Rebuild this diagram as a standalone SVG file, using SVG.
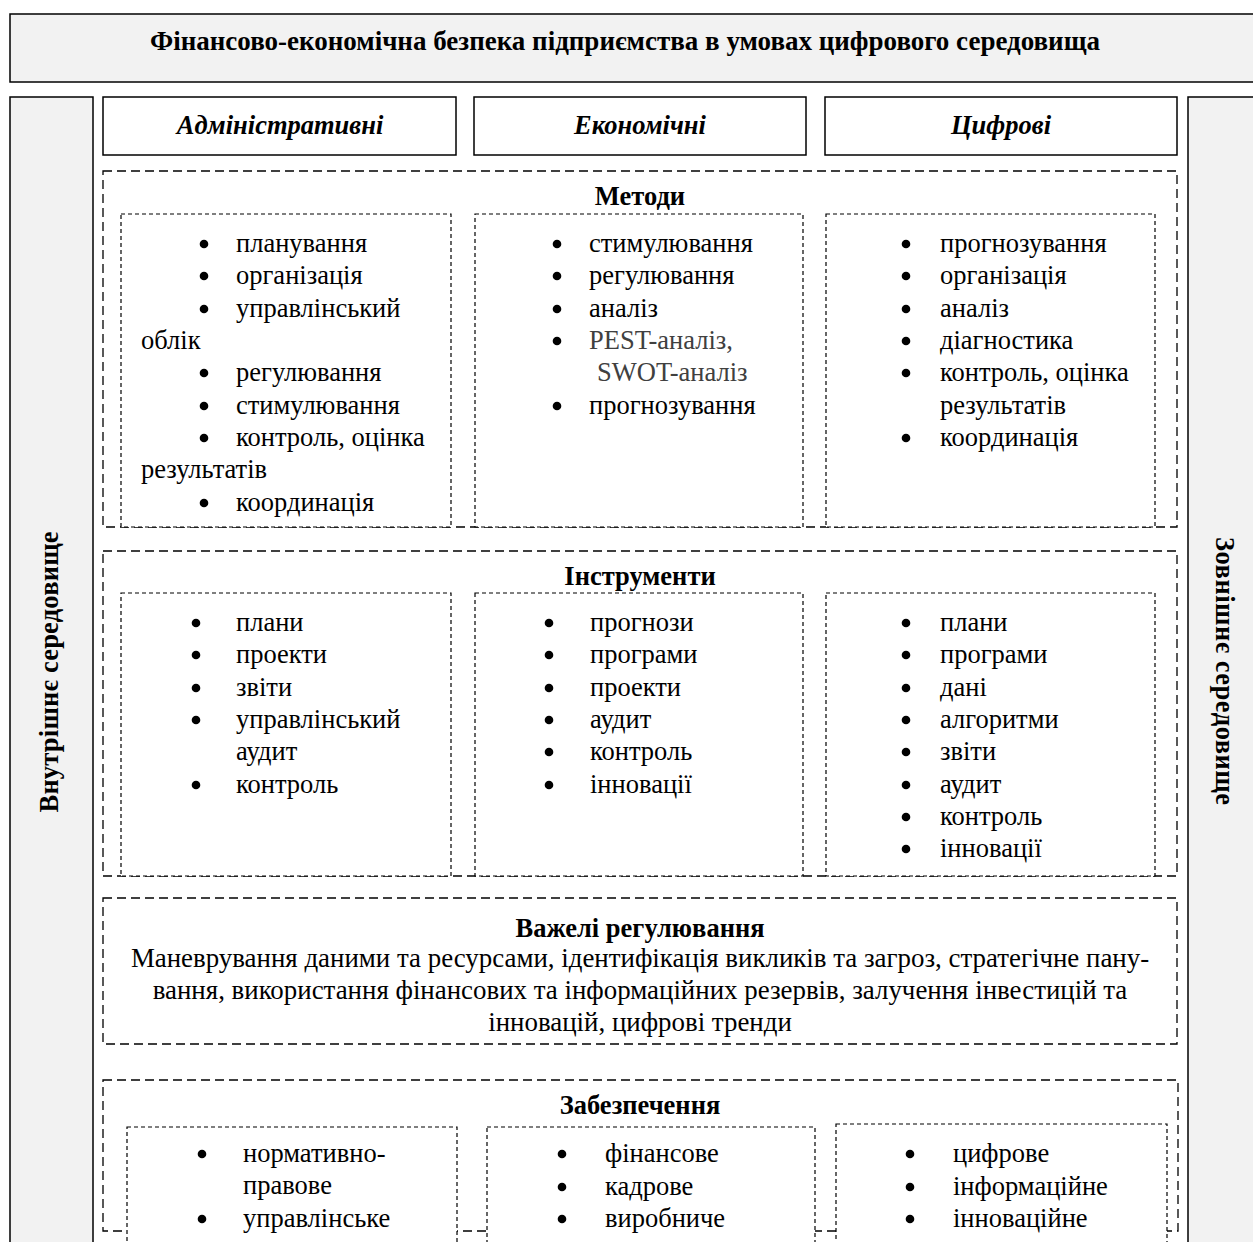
<svg xmlns="http://www.w3.org/2000/svg" width="1253" height="1242" viewBox="0 0 1253 1242">
<style>
text{font-family:"Liberation Serif","Times New Roman",serif;font-size:26.5px;fill:#000}
.b{font-weight:bold}
.h{font-weight:bold;font-style:italic}
.c{text-anchor:middle}
.g{fill:#404040}
.t{font-size:27px}
.l{font-size:26.9px}
.solid{fill:#fff;stroke:#000;stroke-width:1.5}
.grey{fill:#f2f2f2;stroke:#000;stroke-width:1.5}
.outer{fill:#fff;stroke:#000;stroke-width:1.3;stroke-dasharray:9 5}
.inner{fill:#fff;stroke:#000;stroke-width:1.2;stroke-dasharray:4 3}
.dot{fill:#000}
</style>
<rect width="1253" height="1242" fill="#fff"/>
<g id="title">
<rect class="grey" x="10" y="14" width="1260" height="68"/>
<text class="b c t" x="625" y="50">Фінансово-економічна безпека підприємства в умовах цифрового середовища</text>
</g>
<g id="internal">
<rect class="grey" x="10" y="97" width="83" height="1170"/>
<text class="b c" transform="translate(58,672) rotate(-90)" textLength="281" lengthAdjust="spacing">Внутрішнє  середовище</text>
</g>
<g id="external">
<rect class="grey" x="1188" y="97" width="80" height="1170"/>
<text class="b c" transform="translate(1216,671) rotate(90)" textLength="268" lengthAdjust="spacing">Зовнішнє  середовище</text>
</g>
<g id="hdr-admin"><rect class="solid" x="103" y="97" width="353" height="58"/><text class="h c" x="280" y="134">Адміністративні</text></g>
<g id="hdr-econ"><rect class="solid" x="474" y="97" width="332" height="58"/><text class="h c" x="640" y="134">Економічні</text></g>
<g id="hdr-digital"><rect class="solid" x="825" y="97" width="352" height="58"/><text class="h c" x="1001" y="134">Цифрові</text></g>

<g id="methods">
<rect class="outer" x="103" y="171" width="1074" height="356"/>
<text class="b c" x="640" y="205">Методи</text>
<g id="methods-admin">
<rect class="inner" x="121" y="214" width="330" height="313"/>
<circle class="dot" cx="204" cy="244" r="4.3"/><text x="236" y="252">планування</text>
<circle class="dot" cx="204" cy="276" r="4.3"/><text x="236" y="284">організація</text>
<circle class="dot" cx="204" cy="309" r="4.3"/><text x="236" y="317">управлінський</text>
<text x="141" y="349">облік</text>
<circle class="dot" cx="204" cy="373" r="4.3"/><text x="236" y="381">регулювання</text>
<circle class="dot" cx="204" cy="406" r="4.3"/><text x="236" y="414">стимулювання</text>
<circle class="dot" cx="204" cy="438" r="4.3"/><text x="236" y="446">контроль, оцінка</text>
<text x="141" y="478">результатів</text>
<circle class="dot" cx="204" cy="503" r="4.3"/><text x="236" y="511">координація</text>
</g>
<g id="methods-econ">
<rect class="inner" x="475" y="214" width="328" height="313"/>
<circle class="dot" cx="557" cy="244" r="4.3"/><text x="589" y="252">стимулювання</text>
<circle class="dot" cx="557" cy="276" r="4.3"/><text x="589" y="284">регулювання</text>
<circle class="dot" cx="557" cy="309" r="4.3"/><text x="589" y="317">аналіз</text>
<circle class="dot" cx="557" cy="341" r="4.3"/><text class="g" x="589" y="349">PEST-аналіз,</text>
<text class="g" x="597" y="381">SWOT-аналіз</text>
<circle class="dot" cx="557" cy="406" r="4.3"/><text x="589" y="414">прогнозування</text>
</g>
<g id="methods-digital">
<rect class="inner" x="826" y="214" width="329" height="313"/>
<circle class="dot" cx="906" cy="244" r="4.3"/><text x="940" y="252">прогнозування</text>
<circle class="dot" cx="906" cy="276" r="4.3"/><text x="940" y="284">організація</text>
<circle class="dot" cx="906" cy="309" r="4.3"/><text x="940" y="317">аналіз</text>
<circle class="dot" cx="906" cy="341" r="4.3"/><text x="940" y="349">діагностика</text>
<circle class="dot" cx="906" cy="373" r="4.3"/><text x="940" y="381">контроль, оцінка</text>
<text x="940" y="414">результатів</text>
<circle class="dot" cx="906" cy="438" r="4.3"/><text x="940" y="446">координація</text>
</g>
</g>

<g id="tools">
<rect class="outer" x="103" y="551" width="1074" height="325"/>
<text class="b c" x="640" y="585">Інструменти</text>
<g id="tools-admin">
<rect class="inner" x="121" y="593" width="330" height="283"/>
<circle class="dot" cx="196" cy="623" r="4.3"/><text x="236" y="631">плани</text>
<circle class="dot" cx="196" cy="655" r="4.3"/><text x="236" y="663">проекти</text>
<circle class="dot" cx="196" cy="688" r="4.3"/><text x="236" y="696">звіти</text>
<circle class="dot" cx="196" cy="720" r="4.3"/><text x="236" y="728">управлінський</text>
<text x="236" y="760">аудит</text>
<circle class="dot" cx="196" cy="785" r="4.3"/><text x="236" y="793">контроль</text>
</g>
<g id="tools-econ">
<rect class="inner" x="475" y="593" width="328" height="283"/>
<circle class="dot" cx="549" cy="623" r="4.3"/><text x="590" y="631">прогнози</text>
<circle class="dot" cx="549" cy="655" r="4.3"/><text x="590" y="663">програми</text>
<circle class="dot" cx="549" cy="688" r="4.3"/><text x="590" y="696">проекти</text>
<circle class="dot" cx="549" cy="720" r="4.3"/><text x="590" y="728">аудит</text>
<circle class="dot" cx="549" cy="752" r="4.3"/><text x="590" y="760">контроль</text>
<circle class="dot" cx="549" cy="785" r="4.3"/><text x="590" y="793">інновації</text>
</g>
<g id="tools-digital">
<rect class="inner" x="826" y="593" width="329" height="283"/>
<circle class="dot" cx="906" cy="623" r="4.3"/><text x="940" y="631">плани</text>
<circle class="dot" cx="906" cy="655" r="4.3"/><text x="940" y="663">програми</text>
<circle class="dot" cx="906" cy="688" r="4.3"/><text x="940" y="696">дані</text>
<circle class="dot" cx="906" cy="720" r="4.3"/><text x="940" y="728">алгоритми</text>
<circle class="dot" cx="906" cy="752" r="4.3"/><text x="940" y="760">звіти</text>
<circle class="dot" cx="906" cy="785" r="4.3"/><text x="940" y="793">аудит</text>
<circle class="dot" cx="906" cy="817" r="4.3"/><text x="940" y="825">контроль</text>
<circle class="dot" cx="906" cy="849" r="4.3"/><text x="940" y="857">інновації</text>
</g>
</g>

<g id="levers">
<rect class="outer" x="103" y="898" width="1074" height="146"/>
<text class="b c" x="640" y="937">Важелі регулювання</text>
<text class="c l" x="640" y="967">Маневрування даними та ресурсами, ідентифікація викликів та загроз, стратегічне пану-</text>
<text class="c l" x="640" y="999">вання, використання фінансових та інформаційних резервів, залучення інвестицій та</text>
<text class="c l" x="640" y="1031">інновацій, цифрові тренди</text>
</g>

<g id="support">
<rect class="outer" x="103" y="1080" width="1075" height="151"/>
<text class="b c" x="640" y="1114">Забезпечення</text>
<g id="support-admin">
<rect class="inner" x="127" y="1127" width="330" height="140"/>
<circle class="dot" cx="202" cy="1154" r="4.3"/><text x="243" y="1162">нормативно-</text>
<text x="243" y="1194">правове</text>
<circle class="dot" cx="202" cy="1219" r="4.3"/><text x="243" y="1227">управлінське</text>
</g>
<g id="support-econ">
<rect class="inner" x="487" y="1127" width="328" height="140"/>
<circle class="dot" cx="562" cy="1154" r="4.3"/><text x="605" y="1162">фінансове</text>
<circle class="dot" cx="562" cy="1187" r="4.3"/><text x="605" y="1195">кадрове</text>
<circle class="dot" cx="562" cy="1219" r="4.3"/><text x="605" y="1227">виробниче</text>
</g>
<g id="support-digital">
<rect class="inner" x="836" y="1124" width="331" height="143"/>
<circle class="dot" cx="910" cy="1154" r="4.3"/><text x="953" y="1162">цифрове</text>
<circle class="dot" cx="910" cy="1187" r="4.3"/><text x="953" y="1195">інформаційне</text>
<circle class="dot" cx="910" cy="1219" r="4.3"/><text x="953" y="1227">інноваційне</text>
</g>
</g>
<g id="connectors"></g>
</svg>
